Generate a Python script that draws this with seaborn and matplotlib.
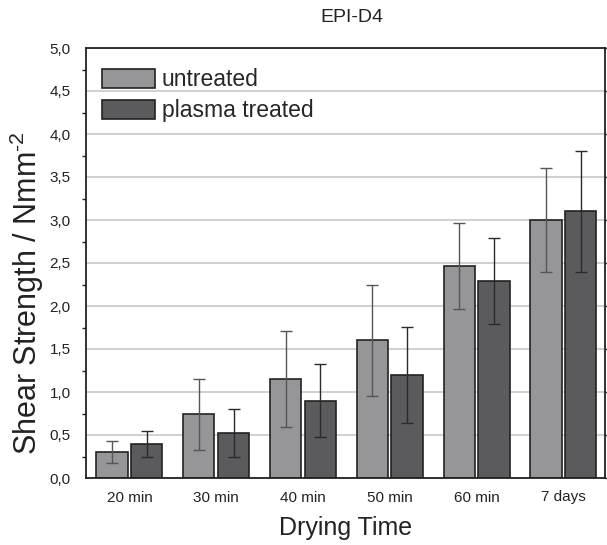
import numpy as np
import pandas as pd
import matplotlib
matplotlib.use("Agg")
import matplotlib.pyplot as plt
import seaborn as sns

# --- dados ---
tempos = ["20 min", "30 min", "40 min", "50 min", "60 min", "7 days"]
grupos = ["untreated", "plasma treated"]
media_untreated = [0.30, 0.74, 1.15, 1.60, 2.46, 3.00]
media_plasma = [0.40, 0.52, 0.90, 1.20, 2.29, 3.10]
erro_untreated = [0.13, 0.41, 0.56, 0.65, 0.50, 0.60]
erro_plasma = [0.15, 0.28, 0.42, 0.56, 0.50, 0.70]

df = pd.DataFrame({
    "tempo": tempos * 2,
    "grupo": [grupos[0]] * len(tempos) + [grupos[1]] * len(tempos),
    "valor": media_untreated + media_plasma,
    "erro": erro_untreated + erro_plasma,
})

sns.set_style("white")
plt.rcParams["font.family"] = ["Liberation Sans", "DejaVu Sans"]
plt.rcParams["mathtext.default"] = "regular"

fig = plt.figure(figsize=(6.07, 5.45), dpi=100)
ax = fig.add_axes([86 / 607, 1 - 478 / 545, 519 / 607, 430 / 545])

cores = {"untreated": "#95969a", "plasma treated": "#5b5b5e"}
sns.barplot(data=df, x="tempo", y="valor", hue="grupo", palette=cores,
            errorbar=None, width=0.8, gap=0.1, edgecolor="#222222",
            linewidth=1.2, ax=ax, zorder=2)

# barras de erro na posicao de cada barra
cores_erro = ["#555555", "#2a2a2a"]
barras = list(ax.containers)
for i, cont in enumerate(barras):
    sub = df[df["grupo"] == grupos[i]]
    xs = [p.get_x() + p.get_width() / 2 for p in cont.patches]
    ax.errorbar(xs, sub["valor"], yerr=sub["erro"], fmt="none",
                ecolor=cores_erro[i], elinewidth=1.0, capsize=4,
                capthick=1.0, zorder=3)

ax.set_ylim(0, 5)
ax.set_xlim(-0.5, 5.48)
ax.set_yticks(np.arange(0, 5.01, 0.5))
ax.set_yticklabels([f"{v:.1f}".replace(".", ",") for v in np.arange(0, 5.01, 0.5)])
ax.set_yticks(np.arange(0, 5.01, 0.25), minor=True)
ax.yaxis.grid(True, color="#c8c8c8", linewidth=1.2, zorder=0)
ax.set_axisbelow(True)

for s in ax.spines.values():
    s.set_visible(True)
    s.set_color("#222222")
    s.set_linewidth(1.3)

ax.tick_params(axis="y", which="major", direction="out", length=6, width=1,
               pad=5, labelsize=11, color="#222222", labelcolor="#222222",
               right=True)
ax.tick_params(axis="y", which="minor", direction="out", length=3, width=1,
               color="#222222", left=True, right=False)
ax.tick_params(axis="x", length=0, labelsize=11, pad=9, labelcolor="#222222")

ax.set_xlabel("Drying Time", fontsize=18, color="#222222", labelpad=8)
ax.set_ylabel("Shear Strength / Nmm$^{\u2010 2}$", fontsize=22,
              color="#222222")
ax.yaxis.set_label_coords(-0.078, 0.43)

fig.text(0.58, 0.967, "EPI-D4", ha="center", va="center", fontsize=14,
         color="#222222")

leg = ax.legend(loc="upper left", frameon=False, fontsize=16.5,
                handlelength=2.3, handleheight=0.9, labelspacing=0.35,
                handletextpad=0.3, borderaxespad=0.3,
                bbox_to_anchor=(0.0, 0.99))
for h in leg.legend_handles:
    h.set_edgecolor("#222222")

fig.savefig("out.png", dpi=100)
